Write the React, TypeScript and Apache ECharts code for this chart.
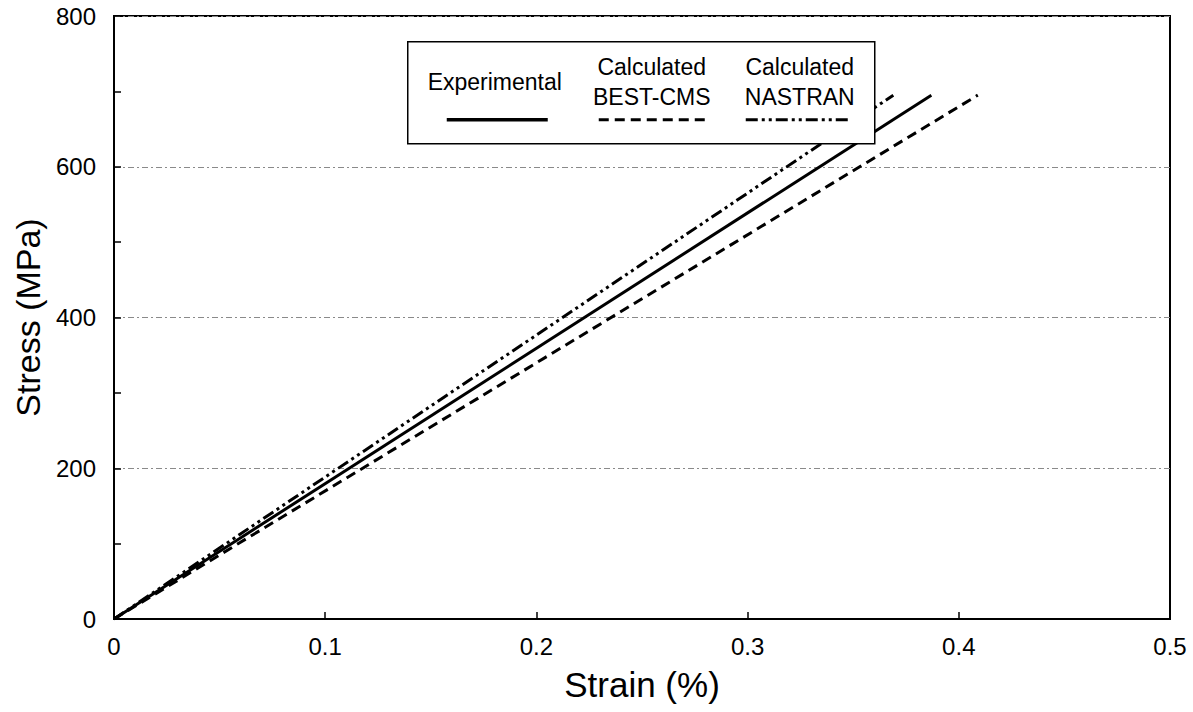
import React, { useEffect, useRef } from "react";
import * as echarts from "echarts";

// Stress–strain lines: measured response and two calculated predictions
const strainExperimental = [0, 0.387];
const stressExperimental = [0, 695];
const strainBestCms = [0, 0.409];
const stressBestCms = [0, 695];
const strainNastran = [0, 0.369];
const stressNastran = [0, 695];

const legendLabels = ["Experimental", "Calculated\nBEST-CMS", "Calculated\nNASTRAN"];

const FONT = "'Liberation Sans', Arial, Helvetica, sans-serif";

const pairs = (xs: number[], ys: number[]) => xs.map((x, i) => [x, ys[i]]);

const DASH_BEST = [10, 6];
const DASH_NASTRAN = [12, 4, 3, 4, 3, 4];

export default function App() {
  const ref = useRef<HTMLDivElement>(null);

  useEffect(() => {
    if (!ref.current) return;
    const chart = echarts.init(ref.current, undefined, { renderer: "svg" });

    const legendTextStyle = {
      fill: "#000",
      font: `23px ${FONT}`,
      textAlign: "center" as const,
      textVerticalAlign: "middle" as const,
      lineHeight: 30,
    };

    chart.setOption({
      animation: false,
      backgroundColor: "#fff",
      grid: {
        left: 114,
        right: 23,
        top: 16,
        bottom: 93,
        show: true,
        borderColor: "#000",
        borderWidth: 2,
        backgroundColor: "transparent",
      },
      xAxis: {
        type: "value",
        min: 0,
        max: 0.5,
        interval: 0.1,
        name: "Strain (%)",
        nameLocation: "middle",
        nameGap: 48,
        nameTextStyle: { fontFamily: FONT, fontSize: 35, color: "#000" },
        axisLine: { show: true, lineStyle: { color: "#000", width: 2 } },
        axisTick: { show: true, inside: true, length: 7, lineStyle: { color: "#000", width: 1.5 } },
        axisLabel: { fontFamily: FONT, fontSize: 24, color: "#000", margin: 15 },
        splitLine: { show: false },
      },
      yAxis: {
        type: "value",
        min: 0,
        max: 800,
        interval: 200,
        name: "Stress (MPa)",
        nameLocation: "middle",
        nameRotate: 90,
        nameGap: 67,
        nameTextStyle: { fontFamily: FONT, fontSize: 34, color: "#000" },
        axisLine: { show: true, lineStyle: { color: "#000", width: 2 } },
        axisTick: { show: true, inside: true, length: 7, lineStyle: { color: "#000", width: 1.5 } },
        minorTick: { show: true, splitNumber: 2, length: 7, lineStyle: { color: "#000", width: 1.5 } },
        axisLabel: { fontFamily: FONT, fontSize: 24, color: "#000", margin: 18 },
        splitLine: {
          show: true,
          lineStyle: { color: "#8a8a8a", width: 1, type: [6, 3, 2, 3] },
        },
      },
      series: [
        {
          name: "Experimental",
          type: "line",
          data: pairs(strainExperimental, stressExperimental),
          symbol: "none",
          lineStyle: { color: "#000", width: 3 },
        },
        {
          name: "Calculated BEST-CMS",
          type: "line",
          data: pairs(strainBestCms, stressBestCms),
          symbol: "none",
          lineStyle: { color: "#000", width: 3, type: DASH_BEST },
        },
        {
          name: "Calculated NASTRAN",
          type: "line",
          data: pairs(strainNastran, stressNastran),
          symbol: "none",
          lineStyle: { color: "#000", width: 3, type: DASH_NASTRAN },
        },
      ],
      graphic: [
        {
          type: "group",
          left: 407,
          top: 41,
          children: [
            {
              type: "rect",
              shape: { x: 0, y: 0, width: 467, height: 102 },
              style: { fill: "#fff", stroke: "#000", lineWidth: 1.5 },
              z: 10,
            },
            {
              type: "text",
              x: 87,
              y: 40,
              style: { ...legendTextStyle, text: legendLabels[0] },
              z: 11,
            },
            {
              type: "text",
              x: 244,
              y: 40,
              style: { ...legendTextStyle, text: legendLabels[1] },
              z: 11,
            },
            {
              type: "text",
              x: 392,
              y: 40,
              style: { ...legendTextStyle, text: legendLabels[2] },
              z: 11,
            },
            {
              type: "line",
              shape: { x1: 39, y1: 78, x2: 140, y2: 78 },
              style: { stroke: "#000", lineWidth: 3.5 },
              z: 11,
            },
            {
              type: "line",
              shape: { x1: 191, y1: 78, x2: 298, y2: 78 },
              style: { stroke: "#000", lineWidth: 3, lineDash: DASH_BEST },
              z: 11,
            },
            {
              type: "line",
              shape: { x1: 338, y1: 78, x2: 440, y2: 78 },
              style: { stroke: "#000", lineWidth: 3, lineDash: DASH_NASTRAN },
              z: 11,
            },
          ],
        },
      ],
    });

    return () => chart.dispose();
  }, []);

  return (
    <div
      ref={ref}
      style={{ position: "fixed", left: 0, top: 0, width: 1193, height: 712, background: "#fff" }}
    />
  );
}
